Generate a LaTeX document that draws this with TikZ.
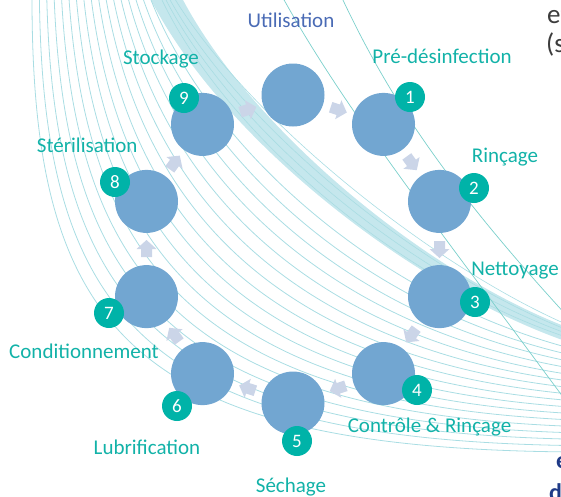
\documentclass[tikz,border=0pt]{standalone}
\usepackage{fontspec}
\setmainfont{Carlito}
\usetikzlibrary{calc}
\definecolor{ringblue}{HTML}{72A6D1}
\definecolor{badgeteal}{HTML}{00B3A8}
\definecolor{labelteal}{HTML}{12B2A8}
\definecolor{utilblue}{HTML}{4A6BB5}
\definecolor{arrowc}{HTML}{CBD5E8}
\definecolor{linec}{HTML}{A9DDE3}
\definecolor{bandc}{HTML}{C5E7ED}
\definecolor{steepc}{HTML}{7ACFCB}
\definecolor{graytext}{HTML}{3C3C3C}
\definecolor{navytext}{HTML}{1F3A87}
\begin{document}
\begin{tikzpicture}[x=1pt,y=-1pt,
  stepcircle/.style={circle, fill=ringblue, minimum size=63pt, inner sep=0pt},
  badge/.style={circle, fill=badgeteal, text=white, minimum size=30pt, inner sep=0pt, font=\fontsize{19}{19}\selectfont},
  lbl/.style={text=labelteal, font=\fontsize{21}{21}\selectfont, inner sep=0pt, anchor=base},
  flowarrow/.style={fill=arrowc},
  bgline/.style={draw=linec, line width=0.8pt},
  steepline/.style={draw=steepc, line width=0.7pt},
  cuttext/.style={inner sep=0pt, anchor=base west, font=\fontsize{27}{27}\selectfont}
]
\useasboundingbox (0,0) rectangle (561,496);
\begin{scope}
\clip (0,0) rectangle (561,496);
% light band (ribbon)
\fill[bandc] (150,-2) .. controls (222,140) and (418,294) .. (580,346)
  -- (580,332) .. controls (428,278) and (250,128) .. (182,-2) -- cycle;
% background sweep of lines
\foreach \i in {0,...,16}{
  \pgfmathsetmacro\myt{\i/18}
  \pgfmathsetmacro\xa{32+133*\myt}
  \pgfmathsetmacro\xb{32+203*\myt}
  \pgfmathsetmacro\yb{330-195*\myt}
  \pgfmathsetmacro\xc{130+292*\myt}
  \pgfmathsetmacro\yc{450-164*\myt}
  \pgfmathsetmacro\yd{452-114*\myt}
  \draw[bgline] (\xa,-2) .. controls (\xb,\yb) and (\xc,\yc) .. (580,\yd);
}
\foreach \myt in {0.97,1.0,1.03,1.07}{
  \pgfmathsetmacro\xa{32+133*\myt}
  \pgfmathsetmacro\xb{32+203*\myt}
  \pgfmathsetmacro\yb{330-195*\myt}
  \pgfmathsetmacro\xc{130+292*\myt}
  \pgfmathsetmacro\yc{450-164*\myt}
  \pgfmathsetmacro\yd{452-114*\myt}
  \draw[bgline, line width=0.6pt] (\xa,-2) .. controls (\xb,\yb) and (\xc,\yc) .. (580,\yd);
}
% steep thin lines
\draw[steepline] (283,-2) .. controls (345,110) and (440,230) .. (580,420);
\draw[steepline] (342,-2) .. controls (390,100) and (450,190) .. (580,330);
% cut-off neighbouring text
\node[cuttext, text=graytext] (cutA) at (547,23) {et};
\node[cuttext, text=graytext] (cutB) at (546,52) {(s};
\node[cuttext, text=navytext, font=\fontsize{24}{24}\selectfont\bfseries] (cutC) at (556,468) {e};
\node[cuttext, text=navytext, font=\fontsize{24}{24}\selectfont\bfseries] (cutD) at (549,500) {d};
\end{scope}

% step circles
\node[stepcircle] (u) at (293,95) {};
\node[stepcircle] (s1) at (383.5,124.4) {};
\node[stepcircle] (s2) at (439.5,201.4) {};
\node[stepcircle] (s3) at (439.5,296.6) {};
\node[stepcircle] (s4) at (383.5,373.6) {};
\node[stepcircle] (s5) at (293,403) {};
\node[stepcircle] (s6) at (202.5,373.6) {};
\node[stepcircle] (s7) at (146.5,296.6) {};
\node[stepcircle] (s8) at (146.5,201.4) {};
\node[stepcircle] (s9) at (202.5,124.4) {};

% flow arrows (block arrows at the midpoints between steps)
\coordinate (a9u) at ($(s9)!0.5!(u)$);
\coordinate (au1) at ($(u)!0.5!(s1)$);
\coordinate (a12) at ($(s1)!0.5!(s2)$);
\coordinate (a23) at ($(s2)!0.5!(s3)$);
\coordinate (a34) at ($(s3)!0.5!(s4)$);
\coordinate (a45) at ($(s4)!0.5!(s5)$);
\coordinate (a56) at ($(s5)!0.5!(s6)$);
\coordinate (a67) at ($(s6)!0.5!(s7)$);
\coordinate (a78) at ($(s7)!0.5!(s8)$);
\coordinate (a89) at ($(s8)!0.5!(s9)$);
\foreach \c/\r in {a9u/18, au1/-18, a12/-54, a23/-90, a34/-126, a45/-162, a56/162, a67/126, a78/90, a89/54}{
  \fill[flowarrow, shift={(\c)}, rotate=\r]
    (-8,-5.5) -- (0,-5.5) -- (0,-10) -- (9,0) -- (0,10) -- (0,5.5) -- (-8,5.5) -- cycle;
}

% badges
\node[badge] (b1) at (410,97) {1};
\node[badge] (b2) at (474,188) {2};
\node[badge] (b3) at (475,302) {3};
\node[badge] (b4) at (417,390) {4};
\node[badge] (b5) at (297,441) {5};
\node[badge] (b6) at (177,406) {6};
\node[badge] (b7) at (109,313) {7};
\node[badge] (b8) at (115,182) {8};
\node[badge] (b9) at (184,98) {9};

% labels
\node[lbl, text=utilblue] (lu) at (291,27) {Utilisation};
\node[lbl] (l1) at (442,63) {Pré-désinfection};
\node[lbl] (l2) at (505,162.5) {Rinçage};
\node[lbl] (l3) at (515,275) {Nettoyage};
\node[lbl] (l4) at (429.5,432) {Contrôle \& Rinçage};
\node[lbl] (l5) at (291,492) {Séchage};
\node[lbl] (l6) at (147,454) {Lubrification};
\node[lbl] (l7) at (84,358) {Conditionnement};
\node[lbl] (l8) at (87.2,152) {Stérilisation};
\node[lbl] (l9) at (161,64) {Stockage};
\end{tikzpicture}
\end{document}
